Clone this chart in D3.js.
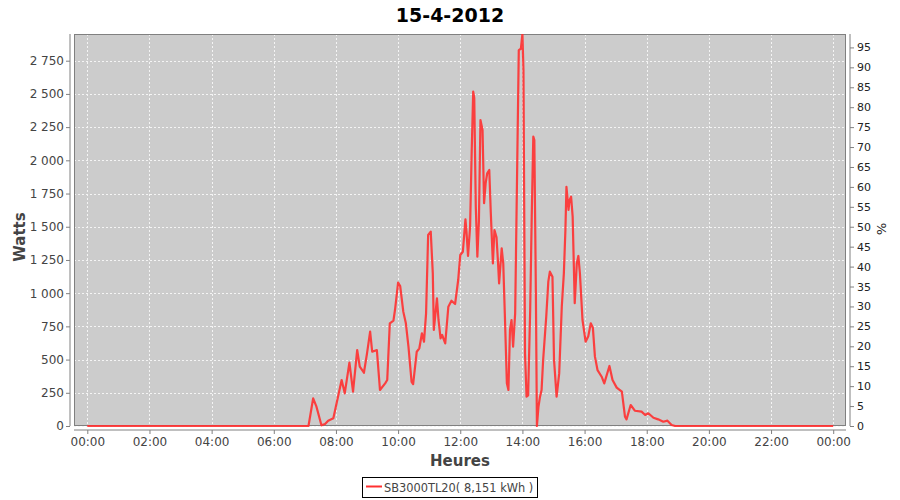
<!DOCTYPE html>
<html>
<head>
<meta charset="utf-8">
<script src="https://cdn.jsdelivr.net/npm/d3@7"></script>
<style>
  html, body { margin: 0; padding: 0; background: #ffffff; }
  svg { display: block; }
  text { font-family: "DejaVu Sans", sans-serif; }
</style>
</head>
<body>
<svg id="chart" width="900" height="500"></svg>
<script>
// ---- data ----
const title = "15-4-2012";
const seriesName = "SB3000TL20( 8,151 kWh )";
const xTickLabels = ["00:00","02:00","04:00","06:00","08:00","10:00","12:00","14:00","16:00","18:00","20:00","22:00","00:00"];
const leftTicks = [0,250,500,750,1000,1250,1500,1750,2000,2250,2500,2750];
const rightTicks = [0,5,10,15,20,25,30,35,40,45,50,55,60,65,70,75,80,85,90,95];
const times = [
  "0:00","7:07","7:16","7:22","7:32","7:39","7:45","7:55","8:11","8:17","8:26","8:33","8:41","8:46","8:54",
  "9:00","9:06","9:10","9:19","9:25","9:35","9:39","9:44","9:51","9:54","10:00","10:04","10:10","10:15","10:20",
  "10:26","10:29","10:36","10:41","10:46","10:50","10:54","10:58","11:03","11:07","11:09","11:15","11:18","11:22",
  "11:25","11:31","11:34","11:37","11:43","11:50","11:56","12:00","12:05","12:10","12:12","12:15","12:19","12:22",
  "12:25","12:27","12:30","12:33","12:36","12:39","12:43","12:46","12:49","12:52","12:56","12:59","13:03","13:06",
  "13:10","13:13","13:15","13:20","13:23","13:26","13:30","13:33","13:36","13:39","13:42","13:46","13:50","13:53",
  "13:57","14:00","14:02","14:05","14:08","14:11","14:15","14:18","14:21","14:23","14:26","14:28","14:31","14:34",
  "14:37","14:40","14:46","14:50","14:53","14:58","15:01","15:06","15:11","15:16","15:20","15:23","15:25","15:29",
  "15:31","15:34","15:37","15:41","15:45","15:48","15:51","15:56","16:02","16:07","16:12","16:16","16:20","16:25",
  "16:33","16:38","16:48","16:54","17:02","17:12","17:18","17:21","17:29","17:37","17:50","17:57","18:03","18:13",
  "18:22","18:32","18:40","18:48","18:55","24:00"
];
const watts = [
  0,0,208,150,5,15,40,58,346,246,477,258,572,447,401,
  547,710,559,572,271,321,346,773,793,873,1079,1054,861,773,597,
  333,316,559,585,698,635,848,1438,1463,1149,723,961,798,660,
  685,622,760,898,943,918,1099,1287,1312,1556,1463,1280,1500,2053,
  2517,2470,1651,1275,1541,2303,2228,1677,1827,1902,1927,1600,1224,1475,
  1420,1224,1074,1337,1224,849,321,271,723,798,597,850,1978,2830,
  2840,2950,2680,547,221,230,873,1580,2178,2153,1000,0,145,221,
  271,497,823,1087,1162,1124,500,221,396,898,1149,1475,1801,1626,
  1700,1726,1576,924,1224,1280,1149,798,635,673,773,740,522,421,
  371,321,452,346,289,258,70,50,158,115,108,83,96,62,
  50,32,40,8,0,0
];

// ---- layout ----
const svg = d3.select("#chart");
const plot = { left: 74, right: 846, top: 34, bottom: 426 };

const toMin = s => { const [h, m] = s.split(":").map(Number); return h * 60 + m; };
const data = times.map((t, i) => ({ t: toMin(t), v: watts[i] }));

const x = d3.scaleLinear().domain([-25.7, 1464.7]).range([plot.left, plot.right]);
const y = d3.scaleLinear().domain([0, 2951]).range([plot.bottom, plot.top]);
const yR = d3.scaleLinear().domain([0, 2951 / 30]).range([plot.bottom, plot.top]);

const xTickVals = xTickLabels.map((d, i) => i * 120);
const fmtW = d => d3.format(",")(d).replace(/,/g, " ");

// background
svg.append("rect")
  .attr("x", plot.left).attr("y", plot.top)
  .attr("width", plot.right - plot.left).attr("height", plot.bottom - plot.top)
  .attr("fill", "#cccccc");

// grid
const grid = svg.append("g").attr("stroke", "#f4f4f4").attr("stroke-width", 1).attr("stroke-dasharray", "2,2");
grid.selectAll("line.gy").data(leftTicks).join("line")
  .attr("x1", plot.left).attr("x2", plot.right)
  .attr("y1", d => Math.round(y(d)) + 0.5).attr("y2", d => Math.round(y(d)) + 0.5);
grid.selectAll("line.gx").data(xTickVals).join("line")
  .attr("y1", plot.top).attr("y2", plot.bottom)
  .attr("x1", d => Math.round(x(d)) + 0.5).attr("x2", d => Math.round(x(d)) + 0.5);

// plot border
svg.append("rect")
  .attr("x", plot.left + 0.5).attr("y", plot.top + 0.5)
  .attr("width", plot.right - plot.left - 1).attr("height", plot.bottom - plot.top - 1)
  .attr("fill", "none").attr("stroke", "#808080").attr("stroke-width", 1);

// line
svg.append("clipPath").attr("id", "clip").append("rect")
  .attr("x", plot.left).attr("y", plot.top)
  .attr("width", plot.right - plot.left).attr("height", plot.bottom - plot.top + 1);
const line = d3.line().x(d => x(d.t)).y(d => y(d.v));
svg.append("path").datum(data)
  .attr("clip-path", "url(#clip)")
  .attr("fill", "none").attr("stroke", "#ff3030").attr("stroke-opacity", 0.9)
  .attr("stroke-width", 2.2).attr("stroke-linejoin", "round")
  .attr("d", line);

// axes
const tickColor = "#444444";
const gL = svg.append("g").attr("transform", `translate(${plot.left - 4},0)`)
  .call(d3.axisLeft(y).tickValues(leftTicks).tickFormat(fmtW).tickSize(4).tickPadding(2).tickSizeOuter(0));
const gR = svg.append("g").attr("transform", `translate(${plot.right + 4},0)`)
  .call(d3.axisRight(yR).tickValues(rightTicks).tickSize(4).tickPadding(3).tickSizeOuter(0));
const gB = svg.append("g").attr("transform", `translate(0,${plot.bottom + 4})`)
  .call(d3.axisBottom(x).tickValues(xTickVals).tickFormat((d, i) => xTickLabels[i]).tickSize(4).tickPadding(3).tickSizeOuter(0));

[gL, gR, gB].forEach(g => {
  g.select(".domain").attr("stroke", "#808080");
  g.selectAll(".tick line").attr("stroke", "#808080");
  g.selectAll(".tick text").attr("fill", tickColor).style("font-size", "12px")
    .style("font-family", '"DejaVu Sans", sans-serif');
});
gL.select(".domain").attr("d", `M0,${plot.top}V${plot.bottom}`);
gR.select(".domain").attr("d", `M0,${plot.top}V${plot.bottom}`);
gB.select(".domain").attr("d", `M${plot.left},0H${plot.right}`);
gR.selectAll(".tick text").style("font-size", "11px").attr("fill", "#222");

// titles
svg.append("text").attr("x", 450).attr("y", 22).attr("text-anchor", "middle")
  .style("font-size", "19px").style("font-weight", "bold").attr("fill", "#000").text(title);
svg.append("text").attr("transform", "translate(25,237) rotate(-90)").attr("text-anchor", "middle")
  .style("font-size", "15px").style("font-weight", "bold").attr("fill", "#444").text("Watts");
svg.append("text").attr("transform", "translate(877,229) rotate(90)").attr("text-anchor", "middle")
  .style("font-size", "13px").attr("fill", "#222").text("%");
svg.append("text").attr("x", 460).attr("y", 466).attr("text-anchor", "middle")
  .style("font-size", "15px").style("font-weight", "bold").attr("fill", "#444").text("Heures");

// legend
const lg = svg.append("g");
lg.append("rect").attr("x", 362.5).attr("y", 477.5).attr("width", 175).attr("height", 20)
  .attr("fill", "#fff").attr("stroke", "#000").attr("stroke-width", 1);
lg.append("line").attr("x1", 366).attr("x2", 382).attr("y1", 486.5).attr("y2", 486.5)
  .attr("stroke", "#ff3030").attr("stroke-width", 2);
lg.append("text").attr("x", 384).attr("y", 492).style("font-size", "11.4px").attr("fill", "#444").text(seriesName);
</script>
</body>
</html>
